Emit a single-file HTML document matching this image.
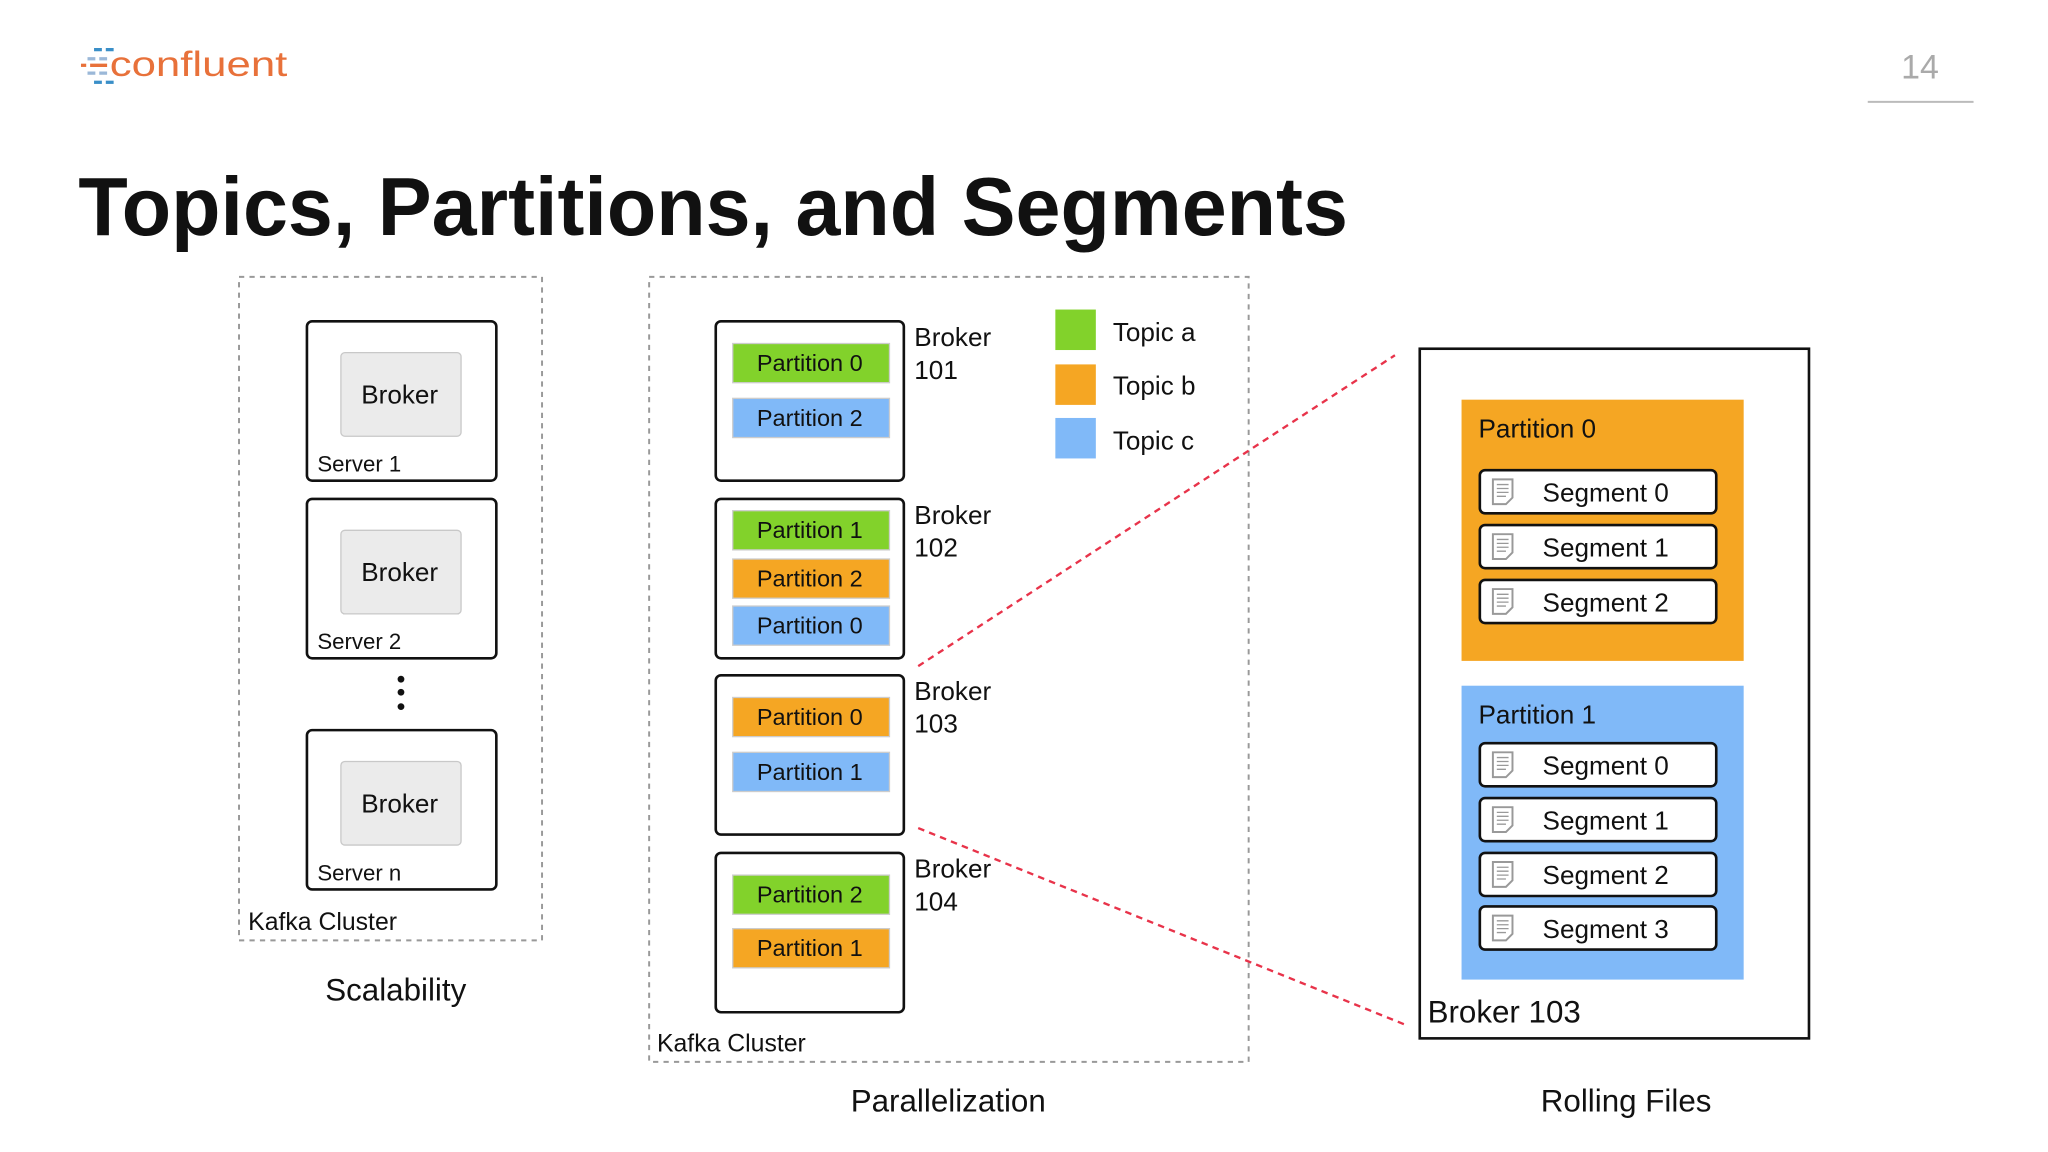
<!DOCTYPE html>
<html><head><meta charset="utf-8"><style>
html,body{margin:0;padding:0;background:#fff;}
svg{display:block;}
text{font-family:"Liberation Sans",Arial,sans-serif;fill:#111;}
</style></head><body>
<svg width="2048" height="1152" viewBox="0 0 1568 882" xmlns="http://www.w3.org/2000/svg">
<defs>
<g id="doc">
 <path d="M0 0 H15 V14 L10 19 H0 Z" fill="#fff" stroke="#999" stroke-width="1.5"/>
 <path d="M3 4H12M3 7H12M3 10H12M3 13H10" stroke="#999" stroke-width="1"/>
</g>
</defs>
<rect width="1568" height="882" fill="#fff"/>
<g stroke-width="2.5">
 <line x1="72" y1="38" x2="78" y2="38" stroke="#3a8fc8"/><line x1="81" y1="38" x2="87" y2="38" stroke="#3a8fc8"/>
 <line x1="67" y1="45" x2="73" y2="45" stroke="#9bb8d8"/><line x1="76" y1="45" x2="82" y2="45" stroke="#9bb8d8"/>
 <line x1="62" y1="50" x2="66" y2="50" stroke="#e8713a"/><line x1="69" y1="50" x2="82" y2="50" stroke="#e8713a"/>
 <line x1="67" y1="56" x2="73" y2="56" stroke="#9bb8d8"/><line x1="76" y1="56" x2="82" y2="56" stroke="#9bb8d8"/>
 <line x1="72" y1="63" x2="78" y2="63" stroke="#3a8fc8"/><line x1="81" y1="63" x2="87" y2="63" stroke="#3a8fc8"/>
</g>
<text x="84" y="58" font-size="27" textLength="136" lengthAdjust="spacingAndGlyphs" style="fill:#e8713a">confluent</text>
<text x="1470" y="60" font-size="26" text-anchor="middle" style="fill:#aaa">14</text>
<line x1="1430" y1="78" x2="1511" y2="78" stroke="#bbb" stroke-width="1.5"/>
<text x="60" y="180" font-size="63" font-weight="bold" textLength="972" lengthAdjust="spacingAndGlyphs">Topics, Partitions, and Segments</text>

<rect x="183" y="212" width="232" height="508" fill="none" stroke="#999" stroke-dasharray="4 4" stroke-width="1.5"/>
<g font-size="20">
<rect x="235" y="246" width="145" height="122" rx="4" fill="#fff" stroke="#111" stroke-width="2"/>
<rect x="261" y="270" width="92" height="64" rx="3" fill="#ebebeb" stroke="#c8c8c8"/>
<text x="306" y="309" text-anchor="middle">Broker</text>
<text x="243" y="361" font-size="17">Server 1</text>
<rect x="235" y="382" width="145" height="122" rx="4" fill="#fff" stroke="#111" stroke-width="2"/>
<rect x="261" y="406" width="92" height="64" rx="3" fill="#ebebeb" stroke="#c8c8c8"/>
<text x="306" y="445" text-anchor="middle">Broker</text>
<text x="243" y="497" font-size="17">Server 2</text>
<circle cx="307" cy="520" r="2.6" fill="#111"/><circle cx="307" cy="530" r="2.6" fill="#111"/><circle cx="307" cy="541" r="2.6" fill="#111"/>
<rect x="235" y="559" width="145" height="122" rx="4" fill="#fff" stroke="#111" stroke-width="2"/>
<rect x="261" y="583" width="92" height="64" rx="3" fill="#ebebeb" stroke="#c8c8c8"/>
<text x="306" y="622" text-anchor="middle">Broker</text>
<text x="243" y="674" font-size="17">Server n</text>
</g>
<text x="190" y="712" font-size="19">Kafka Cluster</text>
<text x="303" y="766" font-size="24" text-anchor="middle">Scalability</text>

<rect x="497" y="212" width="459" height="601" fill="none" stroke="#999" stroke-dasharray="4 4" stroke-width="1.5"/>
<g fill="#fff" stroke="#111" stroke-width="2">
<rect x="548" y="246" width="144" height="122" rx="4"/>
<rect x="548" y="382" width="144" height="122" rx="4"/>
<rect x="548" y="517" width="144" height="122" rx="4"/>
<rect x="548" y="653" width="144" height="122" rx="4"/>
</g>
<g stroke="#ccc" stroke-width="1">
<rect x="561" y="263" width="120" height="30" fill="#82d22b"/>
<rect x="561" y="305" width="120" height="30" fill="#80b9f8"/>
<rect x="561" y="391" width="120" height="30" fill="#82d22b"/>
<rect x="561" y="428" width="120" height="30" fill="#f5a623"/>
<rect x="561" y="464" width="120" height="30" fill="#80b9f8"/>
<rect x="561" y="534" width="120" height="30" fill="#f5a623"/>
<rect x="561" y="576" width="120" height="30" fill="#80b9f8"/>
<rect x="561" y="670" width="120" height="30" fill="#82d22b"/>
<rect x="561" y="711" width="120" height="30" fill="#f5a623"/>
</g>
<g font-size="18" text-anchor="middle">
<text x="620" y="284">Partition 0</text>
<text x="620" y="326">Partition 2</text>
<text x="620" y="412">Partition 1</text>
<text x="620" y="449">Partition 2</text>
<text x="620" y="485">Partition 0</text>
<text x="620" y="555">Partition 0</text>
<text x="620" y="597">Partition 1</text>
<text x="620" y="691">Partition 2</text>
<text x="620" y="732">Partition 1</text>
</g>
<g font-size="20">
<text x="700" y="265">Broker</text><text x="700" y="290">101</text>
<text x="700" y="401">Broker</text><text x="700" y="426">102</text>
<text x="700" y="536">Broker</text><text x="700" y="561">103</text>
<text x="700" y="672">Broker</text><text x="700" y="697">104</text>
</g>
<rect x="808" y="237" width="31" height="31" fill="#82d22b"/>
<rect x="808" y="279" width="31" height="31" fill="#f5a623"/>
<rect x="808" y="320" width="31" height="31" fill="#80b9f8"/>
<g font-size="20">
<text x="852" y="261">Topic a</text><text x="852" y="302">Topic b</text><text x="852" y="344">Topic c</text>
</g>
<text x="503" y="805" font-size="19">Kafka Cluster</text>
<text x="726" y="851" font-size="24" text-anchor="middle">Parallelization</text>

<rect x="1087" y="267" width="298" height="528" fill="#fff" stroke="#111" stroke-width="2"/>
<rect x="1119" y="306" width="216" height="200" fill="#f5a623"/>
<rect x="1119" y="525" width="216" height="225" fill="#80b9f8"/>
<text x="1132" y="335" font-size="20">Partition 0</text>
<text x="1132" y="554" font-size="20">Partition 1</text>
<g font-size="20">
<g transform="translate(1133,360)"><rect width="181" height="33" rx="4" fill="#fff" stroke="#111" stroke-width="2"/><use href="#doc" x="10" y="7"/><text x="48" y="24">Segment 0</text></g>
<g transform="translate(1133,402)"><rect width="181" height="33" rx="4" fill="#fff" stroke="#111" stroke-width="2"/><use href="#doc" x="10" y="7"/><text x="48" y="24">Segment 1</text></g>
<g transform="translate(1133,444)"><rect width="181" height="33" rx="4" fill="#fff" stroke="#111" stroke-width="2"/><use href="#doc" x="10" y="7"/><text x="48" y="24">Segment 2</text></g>
<g transform="translate(1133,569)"><rect width="181" height="33" rx="4" fill="#fff" stroke="#111" stroke-width="2"/><use href="#doc" x="10" y="7"/><text x="48" y="24">Segment 0</text></g>
<g transform="translate(1133,611)"><rect width="181" height="33" rx="4" fill="#fff" stroke="#111" stroke-width="2"/><use href="#doc" x="10" y="7"/><text x="48" y="24">Segment 1</text></g>
<g transform="translate(1133,653)"><rect width="181" height="33" rx="4" fill="#fff" stroke="#111" stroke-width="2"/><use href="#doc" x="10" y="7"/><text x="48" y="24">Segment 2</text></g>
<g transform="translate(1133,694)"><rect width="181" height="33" rx="4" fill="#fff" stroke="#111" stroke-width="2"/><use href="#doc" x="10" y="7"/><text x="48" y="24">Segment 3</text></g>
</g>
<text x="1093" y="783" font-size="24">Broker 103</text>
<text x="1245" y="851" font-size="24" text-anchor="middle">Rolling Files</text>

<line x1="703" y1="510" x2="1068" y2="272" stroke="#e8334a" stroke-width="1.8" stroke-dasharray="5 4"/>
<line x1="703" y1="634" x2="1077" y2="785" stroke="#e8334a" stroke-width="1.8" stroke-dasharray="5 4"/>
</svg>
</body></html>
